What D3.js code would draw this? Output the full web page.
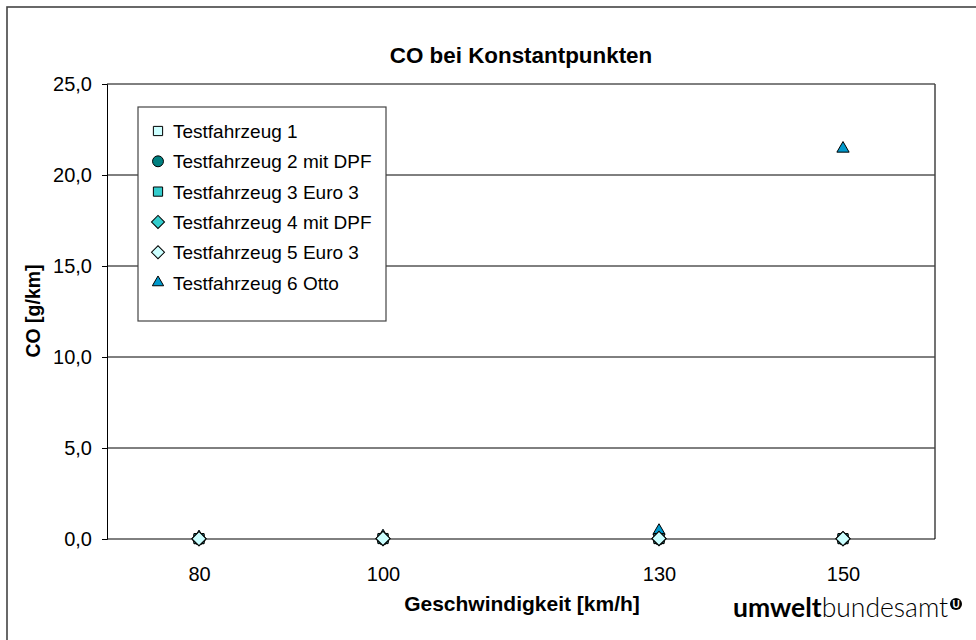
<!DOCTYPE html>
<html>
<head>
<meta charset="utf-8">
<script src="https://cdn.jsdelivr.net/npm/d3@7"></script>
<style>
  body { margin: 0; background: #fff; }
  text { font-family: "Liberation Sans", Arial, sans-serif; fill: #000; }
</style>
</head>
<body>
<div id="main_div"></div>
<script>
// speeds (km/h) and CO values (g/km)
const speeds = [80, 100, 130, 150];
const seriesNames = [
    "Testfahrzeug 1",
    "Testfahrzeug 2 mit DPF",
    "Testfahrzeug 3 Euro 3",
    "Testfahrzeug 4 mit DPF",
    "Testfahrzeug 5 Euro 3",
    "Testfahrzeug 6 Otto"
];
const tf1 = [0.02, 0.03, 0.02, 0.02];
const tf2 = [0.01, 0.01, 0.01, 0.01];
const tf3 = [0.02, 0.02, 0.03, 0.02];
const tf4 = [0.01, 0.02, 0.02, 0.01];
const tf5 = [0.02, 0.03, 0.03, 0.02];
const tf6 = [0.1, 0.15, 0.45, 21.45];
const yTicks = [0, 5, 10, 15, 20, 25];

const W = 976, H = 640;
const plot = { left: 107, top: 84, right: 935, bottom: 539 };
const FONT = "Liberation Sans, Arial, sans-serif";

const svg = d3.select("#main_div").append("svg")
    .attr("width", W)
    .attr("height", H);

// outer frame (runs off the right and bottom edge)
svg.append("rect")
    .attr("x", 7).attr("y", 7)
    .attr("width", W + 10).attr("height", H + 10)
    .attr("fill", "none")
    .attr("stroke", "#444")
    .attr("stroke-width", 1.6);

const x = d3.scaleLinear().domain([70, 160]).range([plot.left, plot.right]);
const y = d3.scaleLinear().domain([0, 25]).range([plot.bottom, plot.top]);

// gridlines
svg.append("g").selectAll("line")
    .data(yTicks.slice(1))
    .join("line")
    .attr("x1", plot.left).attr("x2", plot.right)
    .attr("y1", d => y(d)).attr("y2", d => y(d))
    .attr("stroke", "#000").attr("stroke-width", 1);

// right border of plot
svg.append("line")
    .attr("x1", plot.right).attr("x2", plot.right)
    .attr("y1", plot.top).attr("y2", plot.bottom)
    .attr("stroke", "#444").attr("stroke-width", 1.5);

// y axis
const yAxis = d3.axisLeft(y)
    .tickValues(yTicks)
    .tickSize(5)
    .tickPadding(10)
    .tickFormat(d => d3.format(".1f")(d).replace(".", ","));
const gy = svg.append("g")
    .attr("transform", `translate(${plot.left},0)`)
    .call(yAxis);
gy.select(".domain").attr("stroke", "#000");
gy.selectAll(".tick line").attr("stroke", "#000");
gy.selectAll("text").style("font-size", "20px").style("font-family", FONT);

// x axis
const xAxis = d3.axisBottom(x)
    .tickValues(speeds)
    .tickSize(0)
    .tickPadding(28);
const gx = svg.append("g")
    .attr("transform", `translate(0,${plot.bottom})`)
    .call(xAxis);
gx.select(".domain").attr("stroke", "#000").attr("d", `M${plot.left},0H${plot.right}`);
gx.selectAll("text").style("font-size", "20px").style("font-family", FONT);

// titles
svg.append("text")
    .attr("x", 521).attr("y", 63)
    .attr("text-anchor", "middle")
    .style("font-size", "22.4px").style("font-weight", "bold")
    .text("CO bei Konstantpunkten");

svg.append("text")
    .attr("x", 522).attr("y", 611)
    .attr("text-anchor", "middle")
    .style("font-size", "21px").style("font-weight", "bold")
    .text("Geschwindigkeit [km/h]");

svg.append("text")
    .attr("transform", `translate(40,311) rotate(-90)`)
    .attr("text-anchor", "middle")
    .style("font-size", "19.5px").style("font-weight", "bold")
    .text("CO [g/km]");

// marker styles per series (diamonds are squares turned by 45 degrees)
const styles = [
    { sym: d3.symbolSquare, size: 100, rot: 0, fill: "#ccffff" },
    { sym: d3.symbolCircle, size: 110, rot: 0, fill: "#008080" },
    { sym: d3.symbolSquare, size: 100, rot: 0, fill: "#33cccc" },
    { sym: d3.symbolSquare, size: 100, rot: 45, fill: "#33cccc" },
    { sym: d3.symbolSquare, size: 100, rot: 45, fill: "#ccffff" },
    { sym: d3.symbolTriangle, size: 65, rot: 0, fill: "#0099cc" }
];
const allSeries = [tf1, tf2, tf3, tf4, tf5, tf6];

// Otto drawn first so the diesel markers sit on top of it
const drawOrder = [5, 0, 1, 2, 3, 4];
drawOrder.forEach(i => {
    const s = styles[i];
    svg.append("g").selectAll("path")
        .data(allSeries[i].map((v, k) => ({ x: speeds[k], y: v })))
        .join("path")
        .attr("transform", d => `translate(${x(d.x)},${y(d.y)}) rotate(${s.rot})`)
        .attr("d", d3.symbol().type(s.sym).size(s.size))
        .attr("fill", s.fill)
        .attr("stroke", "#000")
        .attr("stroke-width", 1);
});

// legend
const leg = svg.append("g").attr("transform", "translate(138,107)");
leg.append("rect")
    .attr("width", 248).attr("height", 214)
    .attr("fill", "#fff")
    .attr("stroke", "#444").attr("stroke-width", 1.2);
seriesNames.forEach((name, i) => {
    const s = styles[i];
    const ly = 24 + i * 30.3;
    leg.append("path")
        .attr("transform", `translate(20,${ly}) rotate(${s.rot})`)
        .attr("d", d3.symbol().type(s.sym).size(s.size * 0.85))
        .attr("fill", s.fill)
        .attr("stroke", "#000");
    leg.append("text")
        .attr("x", 35).attr("y", ly + 7)
        .style("font-size", "19px")
        .text(name);
});

// logo
const logo = svg.append("text")
    .attr("x", 733).attr("y", 617)
    .style("font-family", "Lato, 'DejaVu Sans', sans-serif")
    .style("font-size", "26.5px");
logo.append("tspan").style("font-weight", "bold").text("umwelt");
logo.append("tspan").style("font-weight", "300").text("bundesamt");
svg.append("circle")
    .attr("cx", 956).attr("cy", 604).attr("r", 6)
    .attr("fill", "#000");
svg.append("text")
    .attr("x", 956).attr("y", 608)
    .attr("text-anchor", "middle")
    .style("font-size", "10px").style("font-weight", "bold")
    .style("fill", "#fff")
    .text("U");
</script>
</body>
</html>
